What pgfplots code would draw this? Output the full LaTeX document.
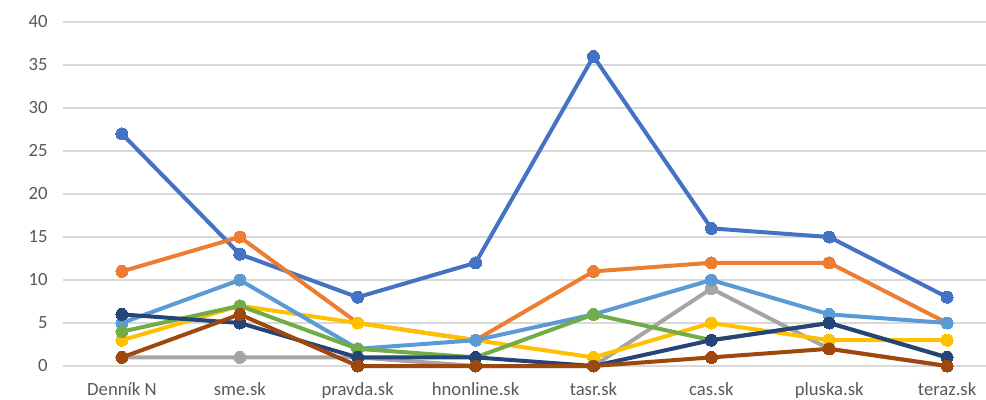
\documentclass[border=0pt]{standalone}
\usepackage{fontspec}
\setmainfont{Carlito}
\usepackage{pgfplots}
\pgfplotsset{compat=1.18}
\definecolor{txt}{HTML}{595959}
\definecolor{gridc}{HTML}{D9D9D9}
\definecolor{s1}{HTML}{4472C4}
\definecolor{s2}{HTML}{ED7D31}
\definecolor{s3}{HTML}{A5A5A5}
\definecolor{s4}{HTML}{FFC000}
\definecolor{s5}{HTML}{5B9BD5}
\definecolor{s6}{HTML}{70AD47}
\definecolor{s7}{HTML}{264478}
\definecolor{s8}{HTML}{9E480E}
\begin{document}
\begin{tikzpicture}
\clip (0,0) rectangle (739.5pt,300pt);
\begin{axis}[
  at={(47.25pt,25.5pt)}, anchor=south west,
  scale only axis, width=692.25pt, height=258pt,
  xmin=-0.5, xmax=7.33, ymin=0, ymax=40,
  xtick={0,...,7},
  xticklabels={Denník N,sme.sk,pravda.sk,hnonline.sk,tasr.sk,cas.sk,pluska.sk,teraz.sk},
  ytick={0,5,...,40},
  axis line style={draw=none},
  major tick length=0pt,
  xmajorgrids=false, ymajorgrids=true, grid style={draw=gridc, line width=1pt},
  tick label style={font=\fontsize{14}{16}\selectfont, text=txt},
  yticklabel style={xshift=-8pt},
  xticklabel style={yshift=-9pt},
  /pgf/number format/assume math mode=true,
  every axis plot/.append style={line width=3pt, mark=*, mark size=4.5pt, line join=round},
  clip=false,
]
\addplot[s1, mark options={fill=s1, draw=s1, line width=0pt}] coordinates {(0,27)(1,13)(2,8)(3,12)(4,36)(5,16)(6,15)(7,8)};
\addplot[s2, mark options={fill=s2, draw=s2, line width=0pt}] coordinates {(0,11)(1,15)(2,5)(3,3)(4,11)(5,12)(6,12)(7,5)};
\addplot[s3, mark options={fill=s3, draw=s3, line width=0pt}] coordinates {(0,1)(1,1)(2,1)(3,0)(4,0)(5,9)(6,2)(7,0)};
\addplot[s4, mark options={fill=s4, draw=s4, line width=0pt}] coordinates {(0,3)(1,7)(2,5)(3,3)(4,1)(5,5)(6,3)(7,3)};
\addplot[s5, mark options={fill=s5, draw=s5, line width=0pt}] coordinates {(0,5)(1,10)(2,2)(3,3)(4,6)(5,10)(6,6)(7,5)};
\addplot[s6, mark options={fill=s6, draw=s6, line width=0pt}] coordinates {(0,4)(1,7)(2,2)(3,1)(4,6)(5,3)(6,5)(7,1)};
\addplot[s7, mark options={fill=s7, draw=s7, line width=0pt}] coordinates {(0,6)(1,5)(2,1)(3,1)(4,0)(5,3)(6,5)(7,1)};
\addplot[s8, mark options={fill=s8, draw=s8, line width=0pt}] coordinates {(0,1)(1,6)(2,0)(3,0)(4,0)(5,1)(6,2)(7,0)};
\end{axis}
\end{tikzpicture}
\end{document}
